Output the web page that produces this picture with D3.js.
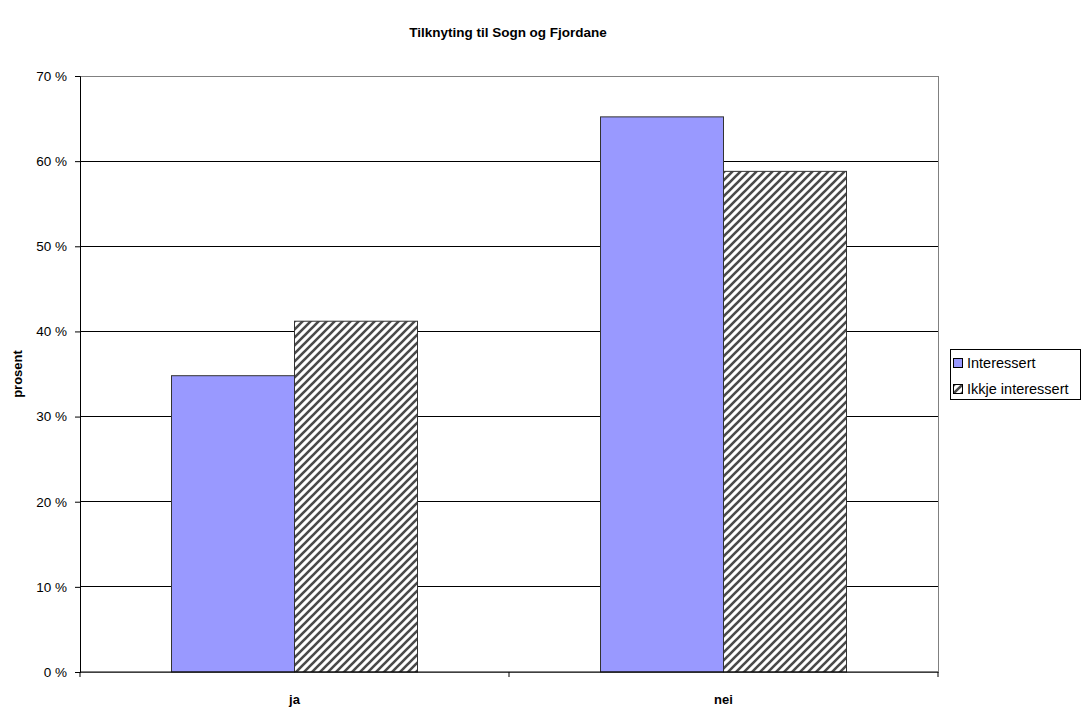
<!DOCTYPE html>
<html><head><meta charset="utf-8">
<script src="https://cdn.jsdelivr.net/npm/d3@7"></script>
<style>body{margin:0;background:#fff}svg{display:block;font-family:"Liberation Sans",Arial,sans-serif}</style>
</head><body><svg id="c" width="1087" height="708"></svg>
<script>
const title = "Tilknyting til Sogn og Fjordane";
const yLabel = "prosent";
const categories = ["ja", "nei"];
const seriesNames = ["Interessert", "Ikkje interessert"];
const interessert = [34.8, 65.2];
const ikkjeInteressert = [41.2, 58.8];
const yTicks = [0, 10, 20, 30, 40, 50, 60, 70];

const svg = d3.select("#c");
const m = {l: 80, r: 938, t: 76, b: 672};
const defs = svg.append("defs");
const pat = defs.append("pattern").attr("id","hatch").attr("patternUnits","userSpaceOnUse")
  .attr("width",8).attr("height",8);
pat.append("rect").attr("width",8).attr("height",8).attr("fill","#fff");
pat.append("path").attr("d","M-2,2 L2,-2 M0,8 L8,0 M6,10 L10,6").attr("stroke","#4a4a4a").attr("stroke-width",2.6);

const x0 = d3.scaleBand().domain(categories).range([m.l, m.r]).paddingInner(0).paddingOuter(0);
const x1 = d3.scaleBand().domain(seriesNames).range([0, x0.bandwidth()]).paddingInner(0).paddingOuter(0.744);
const y = d3.scaleLinear().domain([0, 70]).range([m.b, m.t]);

// gridlines
svg.append("g").selectAll("line").data(yTicks.filter(d => d > 0 && d < 70)).join("line")
  .attr("x1", m.l).attr("x2", m.r).attr("y1", d => y(d)).attr("y2", d => y(d))
  .attr("stroke", "#000").attr("stroke-width", 1).attr("shape-rendering","crispEdges");
// plot border
svg.append("rect").attr("x", m.l).attr("y", m.t).attr("width", m.r - m.l).attr("height", m.b - m.t)
  .attr("fill","none").attr("stroke","#808080").attr("stroke-width",1).attr("shape-rendering","crispEdges");

const data = [interessert, ikkjeInteressert];
const fills = ["#9999ff", "url(#hatch)"];
const g = svg.append("g");
categories.forEach((c, ci) => {
  seriesNames.forEach((s, si) => {
    const v = data[si][ci];
    g.append("rect")
      .attr("x", x0(c) + x1(s)).attr("y", y(v))
      .attr("width", x1.bandwidth()).attr("height", y(0) - y(v))
      .attr("fill", fills[si]).attr("stroke", "#333").attr("stroke-width", 1);
  });
});

// y axis
const yAxis = d3.axisLeft(y).tickValues(yTicks).tickSize(5).tickPadding(8).tickFormat(d => d + " %");
const ya = svg.append("g").attr("transform", `translate(${m.l},0)`).call(yAxis);
ya.select(".domain").attr("stroke","#000");
ya.selectAll("line").attr("stroke","#000");
ya.selectAll("text").attr("font-size", 13.5).attr("fill","#000").attr("font-family","Liberation Sans, Arial, sans-serif");

// x axis
const xa = svg.append("g").attr("transform", `translate(0,${m.b})`);
xa.append("line").attr("x1", m.l).attr("x2", m.r).attr("y1", 0).attr("y2", 0).attr("stroke","#000").attr("stroke-width",1.2);
const bounds = [m.l, m.l + x0.bandwidth(), m.r];
xa.selectAll(".tk").data(bounds).join("line").attr("class","tk")
  .attr("x1", d => d).attr("x2", d => d).attr("y1", 0).attr("y2", 5).attr("stroke","#000");
xa.selectAll(".lbl").data(categories).join("text").attr("class","lbl")
  .attr("x", d => x0(d) + x0.bandwidth()/2).attr("y", 32)
  .attr("text-anchor","middle").attr("font-size", 13).attr("font-weight","bold").text(d => d);

// title
svg.append("text").attr("x", 508).attr("y", 37).attr("text-anchor","middle")
  .attr("font-size", 13.5).attr("font-weight","bold").text(title);
// y label
svg.append("text").attr("transform", "translate(22,374) rotate(-90)").attr("text-anchor","middle")
  .attr("font-size", 13).attr("font-weight","bold").text(yLabel);

// legend
const lg = svg.append("g").attr("transform","translate(950,349)");
lg.append("rect").attr("x",0.5).attr("y",0.5).attr("width",130).attr("height",50).attr("fill","#fff").attr("stroke","#000");
seriesNames.forEach((s, i) => {
  const base = 19 + i * 26;
  lg.append("rect").attr("x", 3.5).attr("y", base - 9.5).attr("width", 9).attr("height", 9)
    .attr("fill", fills[i]).attr("stroke","#000").attr("stroke-width",1);
  lg.append("text").attr("x", 17).attr("y", base).attr("font-size", 14.5).text(s);
});
</script></body></html>
